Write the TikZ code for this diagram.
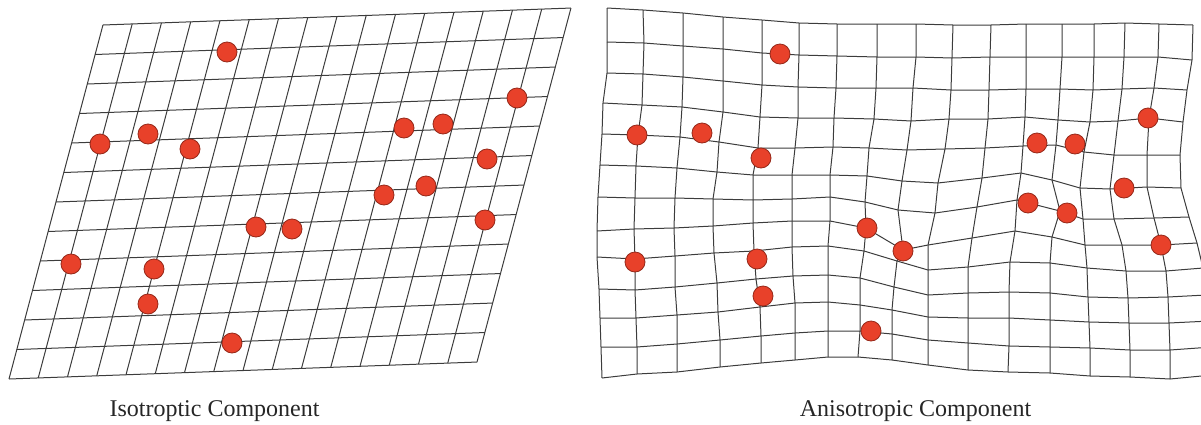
\documentclass[tikz,border=0pt]{standalone}
\usepackage{fontspec}
\setmainfont{Liberation Serif}
\usetikzlibrary{positioning}
\definecolor{ptred}{RGB}{232,65,42}
\definecolor{ptedge}{RGB}{150,40,25}
\definecolor{gridln}{RGB}{60,60,60}

% one row of the warped mesh, as named coordinates w<row>-<col>
\newcommand{\warprow}[2]{%
  \foreach \px/\py [count=\c from 0] in {#2}
    {\coordinate (w#1-\c) at (\px,\py);}}

\begin{document}
\begin{tikzpicture}[x=0.5pt, y=-0.5pt,
    mesh/.style={draw=gridln, line width=0.5pt},
    landmark/.style={circle, inner sep=0pt, minimum size=10pt,
                     fill=ptred, draw=ptedge, line width=0.4pt},
    caption/.style={font=\fontsize{12}{14}\selectfont, text=black!85, anchor=base}]
  \useasboundingbox (0,0) rectangle (1201,424);

  % isotropic grid (sheared)
  \begin{scope}[shift={(9,379)}, x={(14.625pt,0.53pt)}, y={(3.915pt,14.75pt)}]
    \foreach \i in {0,...,12} \draw[mesh] (0,\i) -- (16,\i);
    \foreach \j in {0,...,16} \draw[mesh] (\j,0) -- (\j,12);
  \end{scope}

  % anisotropic grid (warped)
  \warprow{0}{607/8, 643/10, 683/13, 723/17, 762/20, 799/23, 837/24, 877/24, 916/24, 953/25, 991/25, 1026/24, 1062/24, 1094/24, 1125/23, 1159/24, 1193/25}
  \warprow{1}{607/42, 644/43, 683/46, 723/49, 762/53, 799/55, 837/56, 877/57, 916/57, 952/58, 990/57, 1026/57, 1062/57, 1094/57, 1124/57, 1158/57, 1192/60}
  \warprow{2}{607/73, 643/74, 683/77, 723/81, 762/85, 798/87, 836/88, 876/88, 913/88, 951/90, 989/90, 1026/89, 1060/89, 1093/90, 1122/89, 1154/88, 1187/90}
  \warprow{3}{603/103, 642/105, 682/107, 723/112, 760/117, 798/118, 834/118, 874/119, 911/121, 949/119, 988/119, 1025/117, 1058/120, 1090/122, 1118/121, 1149/118, 1183/122}
  \warprow{4}{602/134, 638/135, 680/137, 719/142, 758/148, 795/148, 833/147, 869/148, 907/150, 945/149, 985/148, 1023/146, 1056/145, 1084/152, 1114/155, 1147/155, 1180/155}
  \warprow{5}{600/165, 636/166, 677/168, 717/172, 753/175, 792/175, 830/175, 867/176, 902/181, 938/183, 982/178, 1021/173, 1052/180, 1080/188, 1110/189, 1147/187, 1181/188}
  \warprow{6}{598/197, 635/198, 675/198, 713/199, 753/200, 792/199, 830/197, 865/202, 898/210, 935/213, 977/207, 1017/200, 1060/211, 1083/219, 1114/219, 1154/218, 1189/217}
  \warprow{7}{597/231, 634/229, 674/228, 713/226, 753/223, 792/221, 830/221, 866/228, 903/250, 928/245, 972/238, 1015/231, 1052/237, 1085/245, 1122/245, 1161/245, 1197/243}
  \warprow{8}{597/257, 635/259, 675/256, 714/253, 754/251, 792/247, 828/246, 864/251, 897/261, 928/270, 968/267, 1010/262, 1050/263, 1087/268, 1126/271, 1166/271, 1203/268}
  \warprow{9}{599/289, 635/290, 675/287, 717/283, 756/279, 793/276, 828/275, 860/278, 894/287, 928/295, 968/293, 1009/292, 1050/293, 1088/297, 1128/298, 1168/297, 1206/295}
  \warprow{10}{600/318, 636/318, 677/315, 718/312, 760/307, 795/303, 828/302, 860/305, 892/310, 928/317, 968/318, 1009/318, 1050/320, 1089/322, 1129/323, 1169/323, 1210/321}
  \warprow{11}{601/347, 637/347, 677/344, 720/340, 761/336, 795/333, 828/331, 860/331, 892/334, 928/340, 968/343, 1009/346, 1050/347, 1090/348, 1130/350, 1170/350, 1212/347}
  \warprow{12}{602/378, 637/374, 677/372, 720/367, 761/363, 795/360, 828/357, 858/357, 892/360, 928/365, 968/370, 1008/372, 1050/373, 1090/376, 1130/377, 1170/379, 1212/375}
  \begin{scope}
    \clip (590,0) rectangle (1201,424);
    \foreach \r in {0,...,12}
      \draw[mesh] (w\r-0) \foreach \c in {1,...,16} {-- (w\r-\c)};
    \foreach \c in {0,...,16}
      \draw[mesh] (w0-\c) \foreach \r in {1,...,12} {-- (w\r-\c)};
  \end{scope}

  % landmarks, left
  \node[landmark] (iso1) at (227,52) {};
  \node[landmark] (iso2) at (100,144) {};
  \node[landmark] (iso3) at (148,134) {};
  \node[landmark] (iso4) at (190,149) {};
  \node[landmark] (iso5) at (517,98) {};
  \node[landmark] (iso6) at (404,128) {};
  \node[landmark] (iso7) at (443,124) {};
  \node[landmark] (iso8) at (487,159) {};
  \node[landmark] (iso9) at (384,195) {};
  \node[landmark] (iso10) at (426,186) {};
  \node[landmark] (iso11) at (485,220) {};
  \node[landmark] (iso12) at (256,227) {};
  \node[landmark] (iso13) at (292,229) {};
  \node[landmark] (iso14) at (71,264) {};
  \node[landmark] (iso15) at (154,269) {};
  \node[landmark] (iso16) at (148,304) {};
  \node[landmark] (iso17) at (232,343) {};

  % landmarks, right
  \node[landmark] (ani1) at (780,54) {};
  \node[landmark] (ani2) at (637,135) {};
  \node[landmark] (ani3) at (702,133) {};
  \node[landmark] (ani4) at (761,158) {};
  \node[landmark] (ani5) at (1037,143) {};
  \node[landmark] (ani6) at (1075,144) {};
  \node[landmark] (ani7) at (1148,118) {};
  \node[landmark] (ani8) at (1124,188) {};
  \node[landmark] (ani9) at (1028,203) {};
  \node[landmark] (ani10) at (1067,213) {};
  \node[landmark] (ani11) at (1161,245) {};
  \node[landmark] (ani12) at (867,228) {};
  \node[landmark] (ani13) at (903,251) {};
  \node[landmark] (ani14) at (635,262) {};
  \node[landmark] (ani15) at (757,259) {};
  \node[landmark] (ani16) at (763,296) {};
  \node[landmark] (ani17) at (871,331) {};

  \node[caption] (isocap) at (214.5,416) {Isotroptic Component};
  \node[caption] (anicap) at (915.5,416) {Anisotropic Component};
\end{tikzpicture}
\end{document}
